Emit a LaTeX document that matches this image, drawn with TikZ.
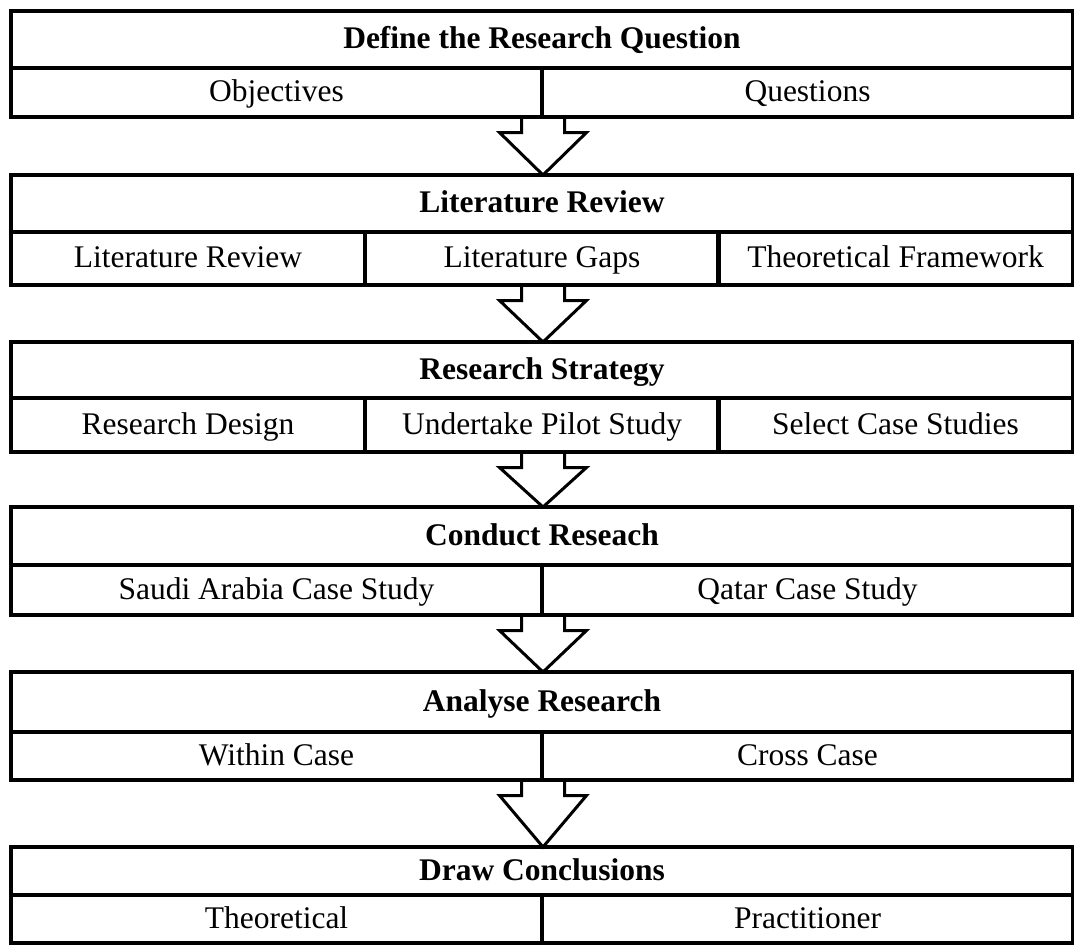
\documentclass[tikz,border=0pt]{standalone}
\usepackage{fontspec}
\setmainfont{Liberation Serif}
\usetikzlibrary{calc}
\newcommand\boxfont{\fontsize{31.5}{36}\selectfont}
\tikzset{
  box/.style={draw, line width=4pt, inner sep=0pt, outer sep=0pt,
    anchor=north west, font=\boxfont, minimum height=#1,
    text height=21pt, text depth=3pt},
  headbox/.style={box=#1, minimum width=1062pt, font=\boxfont\bfseries},
  halfbox/.style={box=#1, minimum width=531pt},
  thirdbox/.style={box=#1, minimum width=354pt},
  blockarrow/.style={draw, line width=3pt, line join=miter, miter limit=10}
}
% hollow down arrow from coordinate #1 (stem top) to coordinate #2 (tip)
\newcommand\flowarrow[2]{%
  \path[blockarrow] ($(#1)+(-21.5,0)$) -- ($(#1)+(-21.5,15.5)$)
    -- ($(#1)+(-43.5,15.5)$) -- (#2) -- ($(#1)+(43.5,15.5)$)
    -- ($(#1)+(21.5,15.5)$) -- ($(#1)+(21.5,0)$);}
\begin{document}
\begin{tikzpicture}[x=1pt,y=-1pt]
\useasboundingbox (0,0) rectangle (1074,945);

% Stage 1
\node[headbox=57pt] (h1) at (11,11) {Define the Research Question};
\node[halfbox=49pt] (s1a) at (11,68) {Objectives};
\node[halfbox=49pt] (s1b) at (542,68) {Questions};

% Stage 2
\node[headbox=57pt] (h2) at (11,175) {Literature Review};
\node[thirdbox=53pt] (s2a) at (11,232) {Literature Review};
\node[thirdbox=53pt] (s2b) at (365,232) {Literature Gaps};
\node[thirdbox=53pt, minimum width=355pt] (s2c) at (718,232) {Theoretical Framework};

% Stage 3
\node[headbox=56pt] (h3) at (11,342) {Research Strategy};
\node[thirdbox=54pt] (s3a) at (11,398) {Research Design};
\node[thirdbox=54pt] (s3b) at (365,398) {Undertake Pilot Study};
\node[thirdbox=54pt, minimum width=355pt] (s3c) at (718,398) {Select Case Studies};

% Stage 4
\node[headbox=58pt] (h4) at (11,507) {Conduct Reseach};
\node[halfbox=50pt] (s4a) at (11,565) {Saudi Arabia Case Study};
\node[halfbox=50pt] (s4b) at (542,565) {Qatar Case Study};

% Stage 5
\node[headbox=60pt] (h5) at (11,672) {Analyse Research};
\node[halfbox=48pt] (s5a) at (11,732) {Within Case};
\node[halfbox=48pt] (s5b) at (542,732) {Cross Case};

% Stage 6
\node[headbox=48pt] (h6) at (11,847) {Draw Conclusions};
\node[halfbox=48pt] (s6a) at (11,895) {Theoretical};
\node[halfbox=48pt] (s6b) at (542,895) {Practitioner};

% Arrows between stages
\coordinate (a1) at (543,117); \coordinate (t1) at ($(h2.north west)+(532,0)$);
\coordinate (a2) at (543,285); \coordinate (t2) at ($(h3.north west)+(532,0)$);
\coordinate (a3) at (543,452); \coordinate (t3) at ($(h4.north west)+(532,0)$);
\coordinate (a4) at (543,615); \coordinate (t4) at ($(h5.north west)+(532,0)$);
\coordinate (a5) at (543,780); \coordinate (t5) at ($(h6.north west)+(532,0)$);
\flowarrow{a1}{t1}
\flowarrow{a2}{t2}
\flowarrow{a3}{t3}
\flowarrow{a4}{t4}
\flowarrow{a5}{t5}
\end{tikzpicture}
\end{document}
